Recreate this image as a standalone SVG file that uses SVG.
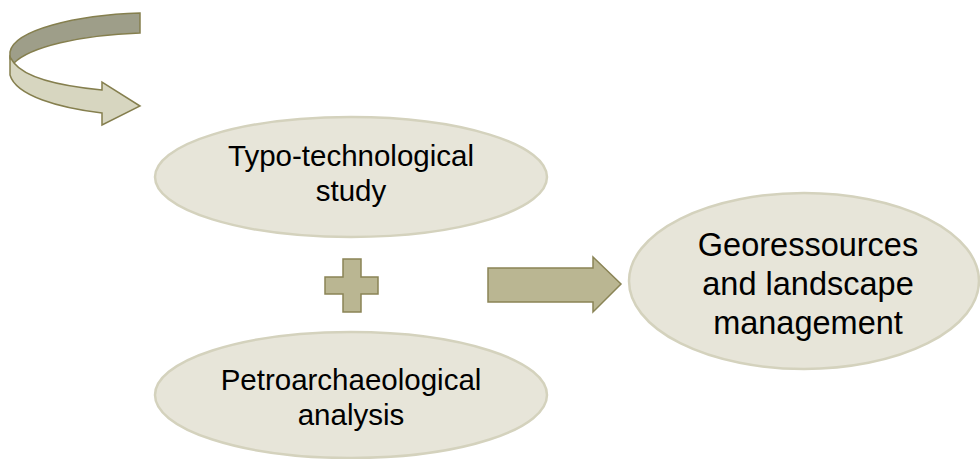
<svg xmlns="http://www.w3.org/2000/svg" width="980" height="459" viewBox="0 0 980 459">
<style>
.node{fill:#e7e5d9;stroke:#d4d2bd;stroke-width:2.5}
.t{font-family:"Liberation Sans",Arial,sans-serif;fill:#000;text-anchor:middle}
.s{font-size:29.5px}
.b{font-size:32.5px}
.sym{fill:#bab692;stroke:#8a8456;stroke-width:1.5;stroke-linejoin:miter}
</style>
<rect width="980" height="459" fill="#fff"/>
<g id="cycle-arrow">
<path d="M140,13 C76,15 14,30 10,52 L10,58 Q11,62 14,63 C30,47 80,35 140,33 Z" fill="#9e9e89" stroke="#857f4e" stroke-width="1.5"/>
<path d="M10,57 L10,75 C16,96 60,108 102,113 L102,125 L140,106 L102,82 L102,90 C60,86 26,78 14,63 Z" fill="#d7d6c0" stroke="#857f4e" stroke-width="1.5" stroke-linejoin="miter"/>
</g>
<g id="typo">
<ellipse class="node" cx="351" cy="177" rx="196" ry="60"/>
<text class="t s" x="351" y="166">Typo-technological</text>
<text class="t s" x="351" y="201">study</text>
</g>
<g id="petro">
<ellipse class="node" cx="351" cy="395" rx="196" ry="63"/>
<text class="t s" x="351" y="390">Petroarchaeological</text>
<text class="t s" x="351" y="425">analysis</text>
</g>
<g id="geo">
<ellipse class="node" cx="804" cy="281" rx="175" ry="88"/>
<text class="t b" x="808" y="256">Georessources</text>
<text class="t b" x="808" y="295">and landscape</text>
<text class="t b" x="808" y="334">management</text>
</g>
<g id="connectors">
<path class="sym" d="M343,259 H361 V277 H378 V294 H361 V312 H343 V294 H325 V277 H343 Z"/>
<path class="sym" d="M488,268 H593 V257 L621,284 L593,312 V302 H488 Z"/>
</g>
</svg>
